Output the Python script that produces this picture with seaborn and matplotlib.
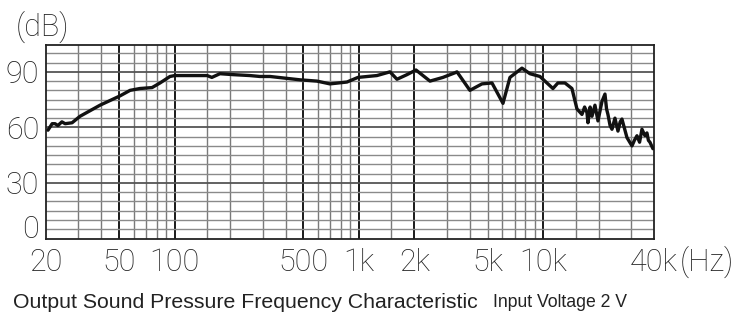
import matplotlib
matplotlib.use("Agg")
import matplotlib.pyplot as plt
import seaborn as sns
import pandas as pd

# ---- data ----
freq_hz = [20.5, 21.6, 22.4, 23.2, 24.4, 25.4, 27.7, 30.6, 39.3, 50.4, 57.2, 64.7,
           75.3, 83.2, 94.2, 100, 150, 159, 176, 207, 256, 290, 329, 478, 592, 696,
           861, 988, 1253, 1474, 1609, 1824, 2040, 2431, 2859, 3323, 3407, 4005,
           4656, 5277, 6055, 6607, 7676, 8484, 9614, 11306, 12033, 13138, 14340,
           15264, 16251, 16800, 17301, 17518, 18000, 18420, 19120, 19850, 20870,
           21670, 22100, 22490, 23100, 23650, 24550, 25490, 26200, 26790, 28530,
           30370, 31300, 32330, 33400, 34410, 35720, 36620, 37300, 38020, 39470]
spl_db = [58.5, 62, 62, 61, 63, 62, 62.5, 66, 72, 77, 80, 81,
          81.5, 84, 87.5, 88, 88, 87, 89, 88.5, 88, 87.5, 87.5, 85.7, 85, 83.5,
          84.5, 87, 88, 90, 86, 88.5, 91, 85, 87, 89.5, 90, 80,
          83.5, 84, 73, 87, 92, 89, 87.5, 81, 84, 84, 81,
          70, 67, 71, 68, 62.5, 71, 66, 72, 63.5, 74,
          78, 70, 67, 61, 59, 65, 58, 63, 64.5, 54.5,
          50, 53, 55.5, 52, 59, 55.5, 57, 53, 52, 48.5]

x_tick_values = [20, 50, 100, 500, 1000, 2000, 5000, 10000, 40000]
x_tick_labels = ["20", "50", "100", "500", "1k", "2k", "5k", "10k", "40k"]
y_tick_values = [0, 30, 60, 90]
y_tick_labels = ["0", "30", "60", "90"]

df = pd.DataFrame({"freq": freq_hz, "spl": spl_db})

sns.set_style("white")
plt.rcParams["font.family"] = ["Liberation Sans", "DejaVu Sans"]
tick_font = ["Roboto", "Liberation Sans", "DejaVu Sans"]

fig = plt.figure(figsize=(7.56, 3.16), dpi=100)
ax = fig.add_axes([46 / 756, 1 - 238.5 / 316, (654 - 46) / 756, (238.5 - 45) / 316])

# grid
x_minor = [30, 40, 60, 70, 80, 90, 150, 200, 300, 400, 600, 700, 800, 900,
           1500, 3000, 4000, 5000, 6000, 7000, 8000, 9000, 15000, 20000, 30000]
x_dark = [50, 100, 500, 1000, 2000, 10000]
for xv in x_minor:
    ax.axvline(xv, color="#7a7a7a", lw=1.0, zorder=1)
for xv in x_dark:
    ax.axvline(xv, color="#1a1a1a", lw=1.4, zorder=1)
for yv in range(5, 105, 5):
    dark = yv in (30, 60, 90)
    ax.axhline(yv, color="#555555" if dark else "#8a8a8a", lw=1.3 if dark else 1.0, zorder=1)

sns.lineplot(data=df, x="freq", y="spl", ax=ax, color="#111111", lw=2.4,
             sort=False, zorder=3)

ax.set_xscale("log")
ax.set_xlim(20, 40000)
ax.set_ylim(0, 104.5)
ax.set_xticks(x_tick_values)
ax.set_xticklabels(x_tick_labels)
ax.xaxis.set_minor_locator(matplotlib.ticker.NullLocator())
ax.set_yticks(y_tick_values)
ax.set_yticklabels(y_tick_labels)
ax.tick_params(axis="both", length=0, labelsize=22, colors="#222222")
ax.tick_params(axis="x", pad=7)
ax.tick_params(axis="y", pad=5)
for lab in ax.get_xticklabels() + ax.get_yticklabels():
    lab.set_family(tick_font)
    lab.set_weight("light")
ax.get_yticklabels()[0].set_verticalalignment("baseline")
ax.set_xlabel("")
ax.set_ylabel("")

for s in ax.spines.values():
    s.set_visible(True)
    s.set_color("#222222")
    s.set_linewidth(1.3)

fig.text(43 / 756, 1 - 27 / 316, "(dB)", fontsize=22, color="#222222",
         ha="center", va="center", family=tick_font, weight="light")
fig.text(680 / 756, 1 - 262 / 316, "(Hz)", fontsize=22, color="#222222",
         ha="left", va="center", family=tick_font, weight="light")
fig.text(13 / 756, 1 - 308 / 316, "Output Sound Pressure Frequency Characteristic",
         fontsize=15.3, color="#222222", ha="left", va="baseline")
fig.text(493 / 756, 1 - 307 / 316, "Input Voltage 2 V",
         fontsize=12.7, color="#222222", ha="left", va="baseline")

fig.savefig("out.png", dpi=100)
